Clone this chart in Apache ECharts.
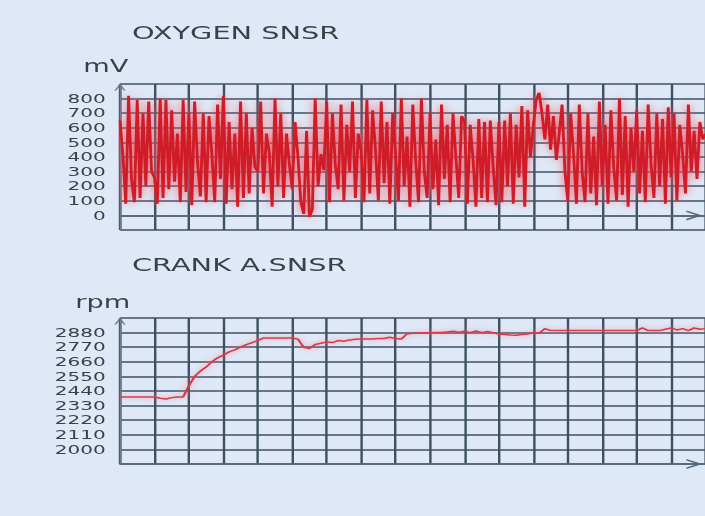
<!DOCTYPE html>
<html><head><meta charset="utf-8">
<script src="https://cdn.jsdelivr.net/npm/echarts@6/dist/echarts.min.js"></script>
<style>
html,body{margin:0;padding:0;overflow:hidden;background:#dfe8f6;width:705px;height:516px}
#c{position:absolute;left:0;top:0;width:441px;height:516px;transform:scaleX(1.6);transform-origin:0 0}
</style></head><body><div id="c"></div>
<script>
// ---- data ----
const oxygenTitle = 'OXYGEN SNSR';
const oxygenUnit = 'mV';
const crankTitle = 'CRANK A.SNSR';
const crankUnit = 'rpm';

const oxygenTicks = [0, 100, 200, 300, 400, 500, 600, 700, 800];
const crankTicks = [2000, 2110, 2220, 2330, 2440, 2550, 2660, 2770, 2880];

const oxygenMv = [
  650, 420, 80, 820, 250, 90, 790, 120, 700, 200, 780, 300,
  260, 80, 800, 120, 790, 180, 720, 230, 560, 90, 790, 160,
  700, 70, 780, 370, 130, 700, 90, 680, 420, 90, 760, 250,
  820, 80, 640, 180, 560, 60, 780, 120, 700, 150, 600, 330,
  300, 780, 150, 560, 430, 60, 800, 200, 700, 120, 560, 350,
  180, 640, 400, 90, 10, 580, -10, 40, 800, 200, 420, 310,
  780, 90, 700, 350, 180, 760, 100, 620, 300, 780, 120, 560,
  440, 90, 790, 150, 720, 450, 100, 780, 220, 640, 80, 700,
  420, 100, 800, 200, 540, 60, 760, 380, 90, 800, 300, 120,
  700, 180, 520, 70, 760, 250, 620, 90, 700, 400, 120, 680,
  650, 80, 620, 380, 60, 660, 120, 640, 90, 650, 330, 70,
  640, 90, 650, 200, 700, 80, 620, 260, 750, 60, 720, 400,
  620, 790, 840, 700, 520, 760, 450, 680, 380, 560, 760, 300,
  100, 700, 420, 80, 760, 300, 90, 700, 150, 540, 70, 780,
  200, 620, 80, 720, 330, 100, 800, 140, 680, 60, 600, 300,
  720, 150, 580, 90, 760, 350, 120, 700, 200, 660, 80, 740,
  260, 700, 100, 620, 420, 150, 760, 300, 580, 250, 640, 520,
  560
];

const crankRpm = [
  2395, 2395, 2395, 2395, 2395, 2395,
  2395, 2385, 2380, 2390, 2395, 2395,
  2480, 2550, 2590, 2620, 2660, 2690,
  2710, 2735, 2750, 2770, 2790, 2805,
  2820, 2840, 2840, 2840, 2840, 2840,
  2840, 2830, 2770, 2760, 2790, 2800,
  2810, 2805, 2820, 2815, 2825, 2830,
  2832, 2832, 2832, 2835, 2835, 2845,
  2835, 2832, 2870, 2875, 2875, 2878,
  2878, 2880, 2880, 2885, 2890, 2882,
  2890, 2880, 2892, 2880, 2888, 2880,
  2870, 2865, 2862, 2860, 2865, 2870,
  2880, 2875, 2910, 2895, 2895, 2895,
  2895, 2895, 2895, 2895, 2895, 2895,
  2895, 2895, 2895, 2895, 2895, 2895,
  2895, 2915, 2895, 2895, 2895, 2905,
  2915, 2900, 2910, 2895, 2915, 2905,
  2910
];

const divisions = 17;

// ---- chart ----
const chart = echarts.init(document.getElementById('c'), null, {renderer: 'svg'});
const FONT = 'DejaVu Sans';
const TEXT = '#3b3f47';
const GRID = '#3e5064';
const chevron = 'path://M0,10L5,0L10,10L8.4,10L5,3.2L1.6,10Z';

function yRange(ticks) {
  const step = ticks[1] - ticks[0];
  return {min: ticks[0] - step, max: ticks[ticks.length - 1] + step, interval: step};
}

function xAxisFor(values, gridIndex) {
  const per = (values.length - 1) / divisions;
  return {
    type: 'category', gridIndex, boundaryGap: false,
    data: values.map((_, i) => i),
    axisTick: {show: false}, axisLabel: {show: false},
    axisLine: {show: true, lineStyle: {color: '#56687e', width: 1.5},
      symbol: ['none', chevron], symbolSize: [10, 10], symbolOffset: [0, -7]},
    splitLine: {show: true, interval: per - 1, lineStyle: {color: GRID, width: 1.5}}
  };
}

function yAxisFor(ticks, gridIndex) {
  const r = yRange(ticks);
  return {
    type: 'value', gridIndex, min: r.min, max: r.max, interval: r.interval,
    axisTick: {show: false},
    axisLine: {show: true, lineStyle: {color: '#6a7b92', width: 1.3},
      symbol: ['none', chevron], symbolSize: [8, 7], symbolOffset: [0, -3]},
    axisLabel: {showMinLabel: false, showMaxLabel: false, margin: 9,
      formatter: v => String(v),
      fontFamily: FONT, fontSize: 12.5, lineHeight: 14, color: TEXT},
    splitLine: {show: true, lineStyle: {color: GRID, width: 1.5}}
  };
}

const titleStyle = {fontFamily: FONT, fontSize: 18, fontWeight: 'normal', color: TEXT};
const unitStyle = {fontFamily: FONT, fontSize: 17, fontWeight: 'normal', color: TEXT};

chart.setOption({
  animation: false,
  backgroundColor: '#dfe8f6',
  title: [
    {text: oxygenTitle, left: 82.5, top: 23.5, padding: 0, textStyle: titleStyle},
    {text: oxygenUnit, left: 52, top: 58, padding: 0, textStyle: unitStyle},
    {text: crankTitle, left: 82.5, top: 256, padding: 0, textStyle: titleStyle},
    {text: crankUnit, left: 47, top: 294, padding: 0, textStyle: unitStyle}
  ],
  grid: [
    {left: 75, top: 84, width: 366.56, height: 146},
    {left: 75, top: 318, width: 366.56, height: 146}
  ],
  xAxis: [xAxisFor(oxygenMv, 0), xAxisFor(crankRpm, 1)],
  yAxis: [yAxisFor(oxygenTicks, 0), yAxisFor(crankTicks, 1)],
  series: [
    {type: 'line', xAxisIndex: 0, yAxisIndex: 0, data: oxygenMv, showSymbol: false,
      lineStyle: {color: '#d01c28', width: 1.8, shadowColor: 'rgba(236,80,95,0.9)', shadowBlur: 6}},
    {type: 'line', xAxisIndex: 1, yAxisIndex: 1, data: crankRpm, showSymbol: false,
      lineStyle: {color: '#d83848', width: 1.5, shadowColor: 'rgba(240,120,130,0.8)', shadowBlur: 5}}
  ]
});
</script></body></html>
